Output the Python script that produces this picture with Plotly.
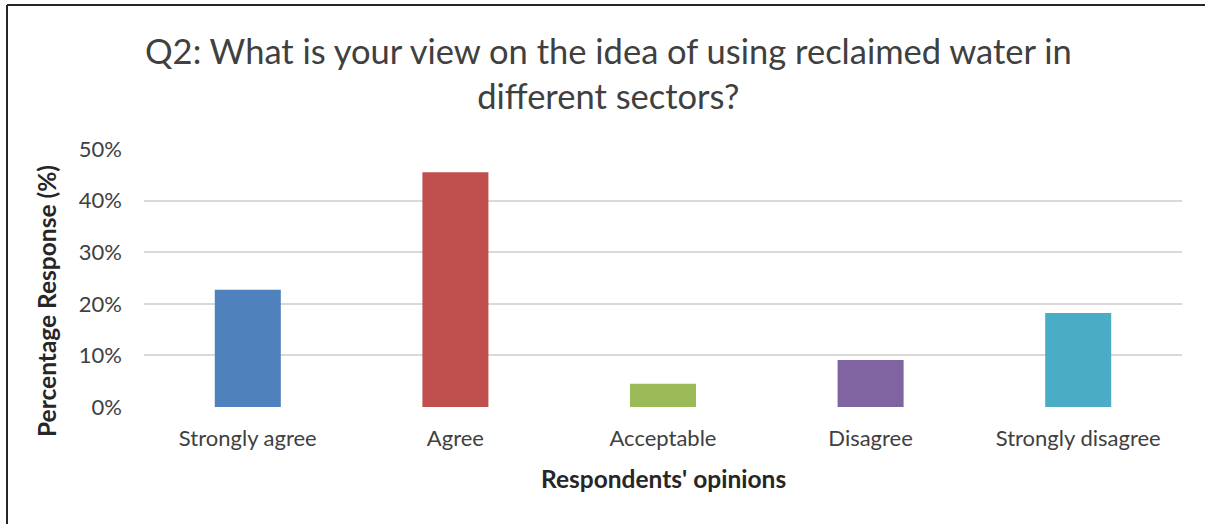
import plotly.graph_objects as go

# Survey responses (share of respondents)
categories = ["Strongly agree", "Agree", "Acceptable", "Disagree", "Strongly disagree"]
shares = [0.227, 0.455, 0.045, 0.091, 0.182]
bar_colors = ["#4F81BD", "#C0504D", "#9BBB59", "#8064A2", "#4BACC6"]
y_ticks = [0, 0.1, 0.2, 0.3, 0.4, 0.5]
y_tick_labels = ["0%", "10%", "20%", "30%", "40%", "50%"]

W, H = 1205, 524
ML, MR, MT, MB = 144, 23, 149, 117
PW, PH = W - ML - MR, H - MT - MB


def px(x):
    return (x - ML) / PW


def py(y):
    return (H - MB - y) / PH


FONT = "Lato, 'Open Sans', sans-serif"
TXT = "#404040"

fig = go.Figure(
    go.Bar(
        x=categories,
        y=shares,
        marker=dict(color=bar_colors, line=dict(width=0)),
        width=0.318,
        showlegend=False,
        hoverinfo="x+y",
    )
)

fig.update_layout(
    width=W,
    height=H,
    margin=dict(l=ML, r=MR, t=MT, b=MB),
    paper_bgcolor="white",
    plot_bgcolor="white",
    font=dict(family=FONT, color=TXT),
    xaxis=dict(
        range=[-0.5, 4.5],
        showgrid=False,
        showline=False,
        zeroline=False,
        ticks="",
        tickfont=dict(size=22, color=TXT),
        ticklabelstandoff=16,
    ),
    yaxis=dict(
        range=[0, 0.5],
        tickvals=y_ticks,
        ticktext=y_tick_labels,
        showgrid=True,
        gridcolor="#D9D9D9",
        gridwidth=1.5,
        zeroline=False,
        showline=False,
        ticks="",
        tickfont=dict(size=22, color=TXT),
        ticklabelstandoff=21,
    ),
    annotations=[
        dict(
            text="Q2: What is your view on the idea of using reclaimed water in<br>different sectors?",
            x=px(608), y=py(73), xref="paper", yref="paper",
            xanchor="center", yanchor="middle", showarrow=False,
            font=dict(size=34.5, color=TXT, family=FONT),
        ),
        dict(
            text="<b>Respondents' opinions</b>",
            x=px(663), y=py(478), xref="paper", yref="paper",
            xanchor="center", yanchor="middle", showarrow=False,
            font=dict(size=24.5, color="#262626", family=FONT),
        ),
        dict(
            text="<b>Percentage Response (%)</b>",
            x=px(46), y=py(301), xref="paper", yref="paper",
            xanchor="center", yanchor="middle", showarrow=False,
            textangle=-90,
            font=dict(size=24.5, color="#262626", family=FONT),
        ),
    ],
    shapes=[
        # frame around the chart (top and left edges)
        dict(type="line", xref="paper", yref="paper",
             x0=px(7), y0=py(5), x1=px(W + 5), y1=py(5),
             line=dict(color="#262626", width=2)),
        dict(type="line", xref="paper", yref="paper",
             x0=px(7), y0=py(5), x1=px(7), y1=py(H + 5),
             line=dict(color="#262626", width=2)),
    ],
)

fig.write_html("out.html")
